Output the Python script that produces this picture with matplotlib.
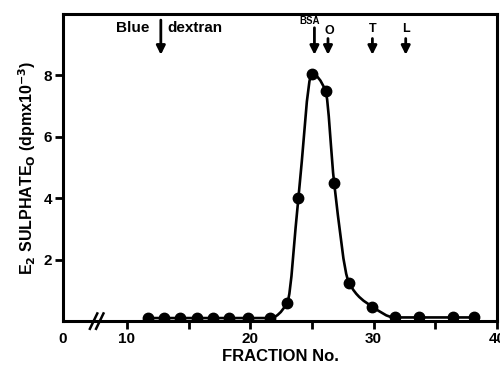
import numpy as np
import matplotlib
matplotlib.use("Agg")
import matplotlib.pyplot as plt
from matplotlib.path import Path
from matplotlib.patches import PathPatch

plt.rcParams['font.family'] = ['Liberation Sans', 'DejaVu Sans']
plt.rcParams['font.weight'] = 'bold'

# data
fraction = [11.7, 13.0, 14.3, 15.7, 17.0, 18.3, 19.8, 21.6, 23.0, 23.9, 25.0,
            26.1, 26.8, 28.0, 29.9, 31.7, 33.7, 36.4, 38.1]
e2_sulphate = [0.1, 0.1, 0.1, 0.1, 0.1, 0.1, 0.1, 0.1, 0.6, 4.0, 8.05,
               7.5, 4.5, 1.25, 0.47, 0.12, 0.12, 0.12, 0.12]

marker_labels = ['BSA', 'O', 'T', 'L']
marker_fractions = [25.2, 26.3, 29.9, 32.6]
blue_dextran_fraction = 12.75

x_ticks = [10, 15, 20, 25, 30, 35, 40]
x_ticklabels = ['10', '', '20', '', '30', '', '40']
y_ticks = [2, 4, 6, 8]
y_ticklabels = ['2', '4', '6', '8']

fig = plt.figure(figsize=(5.0, 3.67), dpi=100)
ax = fig.add_axes([0.126, 0.125, 0.868, 0.837])
ax.set_xlim(4.82, 40.0)
ax.set_ylim(0, 10)

# smooth monotone curve through the points
x = np.asarray(fraction, float)
y = np.asarray(e2_sulphate, float)
h = np.diff(x)
d = np.diff(y) / h
m = np.zeros_like(y)
m[0] = d[0]
m[-1] = d[-1]
for k in range(1, len(y) - 1):
    if d[k - 1] * d[k] <= 0:
        m[k] = 0.0
    else:
        w1 = 2 * h[k] + h[k - 1]
        w2 = h[k] + 2 * h[k - 1]
        m[k] = (w1 + w2) / (w1 / d[k - 1] + w2 / d[k])
verts = [(x[0], y[0])]
codes = [Path.MOVETO]
for i in range(len(x) - 1):
    verts += [(x[i] + h[i] / 3, y[i] + m[i] * h[i] / 3),
              (x[i + 1] - h[i] / 3, y[i + 1] - m[i + 1] * h[i] / 3),
              (x[i + 1], y[i + 1])]
    codes += [Path.CURVE4] * 3
ax.add_patch(PathPatch(Path(verts, codes), fill=False, lw=1.9, color='black',
                       capstyle='round', joinstyle='round'))
ax.plot(fraction, e2_sulphate, 'o', color='black', markersize=7.5)

# spines / ticks
for s in ax.spines.values():
    s.set_linewidth(2.2)
ax.set_xticks(x_ticks)
ax.set_xticklabels(x_ticklabels)
ax.set_yticks(y_ticks)
ax.set_yticklabels(y_ticklabels)
ax.tick_params(direction='out', length=6, width=2, labelsize=11, pad=2)
ax.text(4.82, -0.35, '0', ha='center', va='top', fontsize=11, fontweight='bold')

# axis break marks
for xb in (7.3, 7.8):
    ax.plot([xb - 0.3, xb + 0.3], [-0.25, 0.25], color='black', lw=1.8,
            clip_on=False)

ax.set_xlabel('FRACTION No.', fontsize=12, fontweight='bold', labelpad=2)
ax.set_ylabel(r'E$_\mathbf{2}$ SULPHATE$_\mathbf{O}$ (dpmx10$^\mathbf{-3}$)',
              fontsize=11.5, fontweight='bold', labelpad=4)

# arrows
arrow_kw = dict(arrowstyle='-|>', lw=2, color='black', mutation_scale=13,
                shrinkA=0, shrinkB=0)
ax.annotate('', xy=(blue_dextran_fraction, 8.67),
            xytext=(blue_dextran_fraction, 9.8), arrowprops=arrow_kw)
ax.text(blue_dextran_fraction - 0.9, 9.55, 'Blue', ha='right', va='center',
        fontsize=11, fontweight='bold')
ax.text(blue_dextran_fraction + 0.55, 9.55, 'dextran', ha='left', va='center',
        fontsize=11, fontweight='bold')

label_pos = {'BSA': (24.8, 9.78, 7), 'O': (26.4, 9.45, 9),
             'T': (29.9, 9.5, 9), 'L': (32.6, 9.5, 9)}
start_y = {'BSA': 9.55, 'O': 9.2, 'T': 9.2, 'L': 9.2}
for lab, fx in zip(marker_labels, marker_fractions):
    ax.annotate('', xy=(fx, 8.67), xytext=(fx, start_y[lab]),
                arrowprops=arrow_kw)
    lx, ly, fs = label_pos[lab]
    ax.text(lx, ly, lab, ha='center', va='center', fontsize=fs,
            fontweight='bold')

fig.savefig('out.png', dpi=100)
